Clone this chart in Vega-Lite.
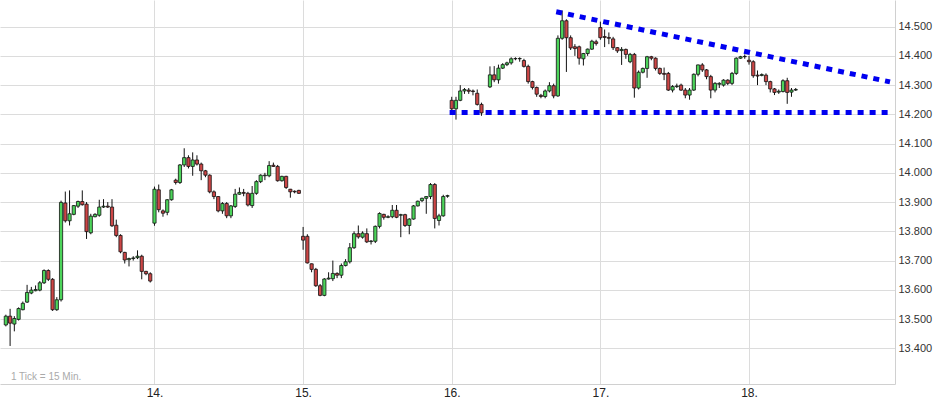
{
  "$schema": "https://vega.github.io/schema/vega-lite/v6.json",
  "width": 895,
  "height": 384,
  "padding": {"left": 0, "top": 0, "right": 45, "bottom": 18},
  "autosize": {"type": "none"},
  "background": "white",
  "config": {
    "view": {"stroke": null},
    "axisY": {
      "orient": "right",
      "ticks": false,
      "grid": true,
      "gridColor": "#dcdcdc",
      "gridWidth": 1,
      "domainColor": "#d0d0d0",
      "labelFont": "Liberation Sans",
      "labelFontSize": 11,
      "labelColor": "#333333",
      "labelPadding": 3,
      "labelOverlap": false,
      "title": null
    },
    "axisX": {
      "ticks": false,
      "grid": true,
      "gridColor": "#dcdcdc",
      "gridWidth": 1,
      "domainColor": "#d0d0d0",
      "labelFont": "Liberation Sans",
      "labelFontSize": 12,
      "labelColor": "#222222",
      "labelPadding": 3,
      "labelFlush": false,
      "labelOverlap": false,
      "title": null
    }
  },
  "datasets": {
    "candles": [
      {"k":0,"o":13.48,"c":13.51,"h":13.515,"l":13.475},
      {"k":1,"o":13.51,"c":13.486,"h":13.535,"l":13.408},
      {"k":2,"o":13.483,"c":13.502,"h":13.51,"l":13.458},
      {"k":3,"o":13.499,"c":13.536,"h":13.54,"l":13.495},
      {"k":4,"o":13.532,"c":13.554,"h":13.56,"l":13.53},
      {"k":5,"o":13.558,"c":13.591,"h":13.617,"l":13.555},
      {"k":6,"o":13.589,"c":13.599,"h":13.61,"l":13.585},
      {"k":7,"o":13.597,"c":13.601,"h":13.615,"l":13.595},
      {"k":8,"o":13.599,"c":13.624,"h":13.63,"l":13.595},
      {"k":9,"o":13.624,"c":13.666,"h":13.67,"l":13.62},
      {"k":10,"o":13.666,"c":13.636,"h":13.67,"l":13.63},
      {"k":11,"o":13.636,"c":13.532,"h":13.64,"l":13.528},
      {"k":12,"o":13.532,"c":13.566,"h":13.575,"l":13.528},
      {"k":13,"o":13.566,"c":13.899,"h":13.905,"l":13.56},
      {"k":14,"o":13.897,"c":13.836,"h":13.936,"l":13.83},
      {"k":15,"o":13.836,"c":13.86,"h":13.94,"l":13.82},
      {"k":16,"o":13.858,"c":13.888,"h":13.89,"l":13.855},
      {"k":17,"o":13.886,"c":13.902,"h":13.905,"l":13.88},
      {"k":18,"o":13.902,"c":13.891,"h":13.94,"l":13.888},
      {"k":19,"o":13.893,"c":13.799,"h":13.9,"l":13.774},
      {"k":20,"o":13.795,"c":13.852,"h":13.86,"l":13.79},
      {"k":21,"o":13.85,"c":13.858,"h":13.862,"l":13.848},
      {"k":22,"o":13.855,"c":13.883,"h":13.908,"l":13.85},
      {"k":23,"o":13.883,"c":13.886,"h":13.91,"l":13.88},
      {"k":24,"o":13.886,"c":13.883,"h":13.9,"l":13.88},
      {"k":25,"o":13.883,"c":13.819,"h":13.91,"l":13.815},
      {"k":26,"o":13.821,"c":13.786,"h":13.84,"l":13.78},
      {"k":27,"o":13.786,"c":13.73,"h":13.79,"l":13.725},
      {"k":28,"o":13.728,"c":13.702,"h":13.73,"l":13.69},
      {"k":29,"o":13.703,"c":13.707,"h":13.71,"l":13.68},
      {"k":30,"o":13.707,"c":13.709,"h":13.715,"l":13.7},
      {"k":31,"o":13.71,"c":13.715,"h":13.735,"l":13.705},
      {"k":32,"o":13.715,"c":13.663,"h":13.72,"l":13.636},
      {"k":33,"o":13.663,"c":13.655,"h":13.665,"l":13.65},
      {"k":34,"o":13.655,"c":13.63,"h":13.66,"l":13.625},
      {"k":35,"o":13.828,"c":13.944,"h":13.953,"l":13.819},
      {"k":36,"o":13.942,"c":13.874,"h":13.96,"l":13.865},
      {"k":37,"o":13.87,"c":13.862,"h":13.875,"l":13.85},
      {"k":38,"o":13.865,"c":13.908,"h":13.91,"l":13.855},
      {"k":39,"o":13.908,"c":13.942,"h":13.945,"l":13.905},
      {"k":40,"o":13.975,"c":13.967,"h":13.98,"l":13.96},
      {"k":41,"o":13.967,"c":14.027,"h":14.03,"l":13.962},
      {"k":42,"o":14.027,"c":14.052,"h":14.084,"l":14.02},
      {"k":43,"o":14.052,"c":14.022,"h":14.06,"l":14.015},
      {"k":44,"o":14.022,"c":14.044,"h":14.07,"l":13.99},
      {"k":45,"o":14.044,"c":14.03,"h":14.06,"l":14.025},
      {"k":46,"o":14.03,"c":14.007,"h":14.035,"l":13.975},
      {"k":47,"o":14.007,"c":13.992,"h":14.01,"l":13.985},
      {"k":48,"o":13.992,"c":13.935,"h":13.995,"l":13.93},
      {"k":49,"o":13.935,"c":13.919,"h":13.94,"l":13.91},
      {"k":50,"o":13.919,"c":13.87,"h":13.92,"l":13.865},
      {"k":51,"o":13.87,"c":13.895,"h":13.9,"l":13.86},
      {"k":52,"o":13.895,"c":13.853,"h":13.9,"l":13.845},
      {"k":53,"o":13.853,"c":13.887,"h":13.89,"l":13.845},
      {"k":54,"o":13.885,"c":13.927,"h":13.945,"l":13.88},
      {"k":55,"o":13.927,"c":13.933,"h":13.95,"l":13.925},
      {"k":56,"o":13.933,"c":13.93,"h":13.945,"l":13.92},
      {"k":57,"o":13.93,"c":13.89,"h":13.935,"l":13.885},
      {"k":58,"o":13.888,"c":13.93,"h":13.955,"l":13.88},
      {"k":59,"o":13.93,"c":13.97,"h":13.975,"l":13.925},
      {"k":60,"o":13.97,"c":13.992,"h":13.995,"l":13.965},
      {"k":61,"o":13.99,"c":13.992,"h":14.0,"l":13.975},
      {"k":62,"o":13.99,"c":14.025,"h":14.04,"l":13.985},
      {"k":63,"o":14.026,"c":14.022,"h":14.035,"l":14.02},
      {"k":64,"o":14.022,"c":13.973,"h":14.027,"l":13.97},
      {"k":65,"o":13.973,"c":13.988,"h":13.99,"l":13.97},
      {"k":66,"o":13.988,"c":13.95,"h":13.99,"l":13.945},
      {"k":67,"o":13.944,"c":13.935,"h":13.945,"l":13.915},
      {"k":68,"o":13.937,"c":13.935,"h":13.94,"l":13.93},
      {"k":69,"o":13.94,"c":13.93,"h":13.942,"l":13.928},
      {"k":70,"o":13.783,"c":13.77,"h":13.815,"l":13.737},
      {"k":71,"o":13.783,"c":13.692,"h":13.79,"l":13.69},
      {"k":72,"o":13.689,"c":13.67,"h":13.69,"l":13.66},
      {"k":73,"o":13.67,"c":13.614,"h":13.675,"l":13.61},
      {"k":74,"o":13.614,"c":13.581,"h":13.62,"l":13.578},
      {"k":75,"o":13.581,"c":13.637,"h":13.64,"l":13.578},
      {"k":76,"o":13.637,"c":13.64,"h":13.66,"l":13.635},
      {"k":77,"o":13.638,"c":13.656,"h":13.7,"l":13.63},
      {"k":78,"o":13.656,"c":13.65,"h":13.66,"l":13.64},
      {"k":79,"o":13.65,"c":13.683,"h":13.69,"l":13.64},
      {"k":80,"o":13.683,"c":13.696,"h":13.705,"l":13.68},
      {"k":81,"o":13.696,"c":13.744,"h":13.76,"l":13.69},
      {"k":82,"o":13.744,"c":13.792,"h":13.8,"l":13.74},
      {"k":83,"o":13.792,"c":13.781,"h":13.82,"l":13.775},
      {"k":84,"o":13.78,"c":13.794,"h":13.8,"l":13.775},
      {"k":85,"o":13.792,"c":13.764,"h":13.81,"l":13.76},
      {"k":86,"o":13.765,"c":13.767,"h":13.77,"l":13.755},
      {"k":87,"o":13.766,"c":13.817,"h":13.82,"l":13.76},
      {"k":88,"o":13.817,"c":13.861,"h":13.865,"l":13.81},
      {"k":89,"o":13.858,"c":13.848,"h":13.86,"l":13.84},
      {"k":90,"o":13.848,"c":13.85,"h":13.855,"l":13.845},
      {"k":91,"o":13.85,"c":13.872,"h":13.89,"l":13.845},
      {"k":92,"o":13.872,"c":13.848,"h":13.89,"l":13.845},
      {"k":93,"o":13.855,"c":13.857,"h":13.86,"l":13.78},
      {"k":94,"o":13.857,"c":13.82,"h":13.86,"l":13.815},
      {"k":95,"o":13.82,"c":13.842,"h":13.845,"l":13.79},
      {"k":96,"o":13.842,"c":13.887,"h":13.89,"l":13.84},
      {"k":97,"o":13.887,"c":13.903,"h":13.905,"l":13.885},
      {"k":98,"o":13.905,"c":13.913,"h":13.915,"l":13.9},
      {"k":99,"o":13.913,"c":13.919,"h":13.92,"l":13.86},
      {"k":100,"o":13.919,"c":13.96,"h":13.965,"l":13.91},
      {"k":101,"o":13.96,"c":13.844,"h":13.965,"l":13.81},
      {"k":102,"o":13.837,"c":13.853,"h":13.86,"l":13.82},
      {"k":103,"o":13.853,"c":13.919,"h":13.925,"l":13.85},
      {"k":104,"o":13.92,"c":13.922,"h":13.925,"l":13.915},
      {"k":105,"o":14.248,"c":14.219,"h":14.26,"l":14.21},
      {"k":106,"o":14.219,"c":14.248,"h":14.26,"l":14.182},
      {"k":107,"o":14.248,"c":14.28,"h":14.3,"l":14.245},
      {"k":108,"o":14.28,"c":14.285,"h":14.29,"l":14.27},
      {"k":109,"o":14.283,"c":14.279,"h":14.29,"l":14.27},
      {"k":110,"o":14.28,"c":14.278,"h":14.285,"l":14.265},
      {"k":111,"o":14.272,"c":14.234,"h":14.285,"l":14.23},
      {"k":112,"o":14.234,"c":14.205,"h":14.24,"l":14.195},
      {"k":114,"o":14.294,"c":14.335,"h":14.364,"l":14.29},
      {"k":115,"o":14.335,"c":14.318,"h":14.365,"l":14.31},
      {"k":116,"o":14.318,"c":14.358,"h":14.37,"l":14.305},
      {"k":117,"o":14.358,"c":14.37,"h":14.375,"l":14.355},
      {"k":118,"o":14.37,"c":14.376,"h":14.38,"l":14.365},
      {"k":119,"o":14.376,"c":14.39,"h":14.395,"l":14.37},
      {"k":120,"o":14.39,"c":14.391,"h":14.395,"l":14.385},
      {"k":121,"o":14.39,"c":14.391,"h":14.395,"l":14.38},
      {"k":122,"o":14.384,"c":14.364,"h":14.39,"l":14.36},
      {"k":123,"o":14.364,"c":14.312,"h":14.37,"l":14.305},
      {"k":124,"o":14.312,"c":14.292,"h":14.315,"l":14.285},
      {"k":125,"o":14.292,"c":14.269,"h":14.295,"l":14.26},
      {"k":126,"o":14.265,"c":14.261,"h":14.27,"l":14.255},
      {"k":127,"o":14.261,"c":14.28,"h":14.285,"l":14.255},
      {"k":128,"o":14.28,"c":14.298,"h":14.31,"l":14.275},
      {"k":129,"o":14.298,"c":14.263,"h":14.305,"l":14.255},
      {"k":130,"o":14.263,"c":14.46,"h":14.47,"l":14.26},
      {"k":131,"o":14.46,"c":14.52,"h":14.555,"l":14.455},
      {"k":132,"o":14.52,"c":14.462,"h":14.525,"l":14.345},
      {"k":133,"o":14.462,"c":14.427,"h":14.47,"l":14.42},
      {"k":134,"o":14.431,"c":14.425,"h":14.44,"l":14.4},
      {"k":135,"o":14.431,"c":14.392,"h":14.435,"l":14.37},
      {"k":136,"o":14.39,"c":14.408,"h":14.41,"l":14.367},
      {"k":137,"o":14.408,"c":14.423,"h":14.425,"l":14.4},
      {"k":138,"o":14.423,"c":14.45,"h":14.455,"l":14.42},
      {"k":139,"o":14.448,"c":14.442,"h":14.455,"l":14.435},
      {"k":140,"o":14.497,"c":14.462,"h":14.517,"l":14.455},
      {"k":141,"o":14.466,"c":14.463,"h":14.49,"l":14.43},
      {"k":142,"o":14.463,"c":14.46,"h":14.48,"l":14.44},
      {"k":143,"o":14.458,"c":14.428,"h":14.465,"l":14.42},
      {"k":144,"o":14.428,"c":14.417,"h":14.43,"l":14.41},
      {"k":145,"o":14.418,"c":14.422,"h":14.43,"l":14.369},
      {"k":146,"o":14.422,"c":14.405,"h":14.425,"l":14.39},
      {"k":147,"o":14.38,"c":14.405,"h":14.41,"l":14.375},
      {"k":148,"o":14.405,"c":14.29,"h":14.41,"l":14.257},
      {"k":149,"o":14.29,"c":14.344,"h":14.35,"l":14.285},
      {"k":150,"o":14.344,"c":14.357,"h":14.36,"l":14.34},
      {"k":151,"o":14.357,"c":14.397,"h":14.4,"l":14.325},
      {"k":152,"o":14.397,"c":14.392,"h":14.4,"l":14.385},
      {"k":153,"o":14.392,"c":14.357,"h":14.395,"l":14.35},
      {"k":154,"o":14.357,"c":14.34,"h":14.36,"l":14.335},
      {"k":155,"o":14.34,"c":14.337,"h":14.36,"l":14.317},
      {"k":156,"o":14.34,"c":14.283,"h":14.345,"l":14.28},
      {"k":157,"o":14.283,"c":14.295,"h":14.3,"l":14.275},
      {"k":158,"o":14.295,"c":14.297,"h":14.305,"l":14.29},
      {"k":159,"o":14.3,"c":14.283,"h":14.305,"l":14.28},
      {"k":160,"o":14.283,"c":14.266,"h":14.29,"l":14.255},
      {"k":161,"o":14.266,"c":14.283,"h":14.29,"l":14.25},
      {"k":162,"o":14.283,"c":14.337,"h":14.34,"l":14.28},
      {"k":163,"o":14.337,"c":14.369,"h":14.37,"l":14.33},
      {"k":164,"o":14.369,"c":14.352,"h":14.375,"l":14.345},
      {"k":165,"o":14.352,"c":14.329,"h":14.355,"l":14.32},
      {"k":166,"o":14.329,"c":14.283,"h":14.335,"l":14.255},
      {"k":167,"o":14.283,"c":14.306,"h":14.31,"l":14.275},
      {"k":168,"o":14.303,"c":14.306,"h":14.31,"l":14.29},
      {"k":169,"o":14.3,"c":14.317,"h":14.32,"l":14.295},
      {"k":170,"o":14.317,"c":14.306,"h":14.32,"l":14.3},
      {"k":171,"o":14.306,"c":14.34,"h":14.345,"l":14.3},
      {"k":172,"o":14.34,"c":14.392,"h":14.395,"l":14.335},
      {"k":173,"o":14.392,"c":14.397,"h":14.4,"l":14.39},
      {"k":174,"o":14.397,"c":14.398,"h":14.405,"l":14.39},
      {"k":175,"o":14.385,"c":14.38,"h":14.4,"l":14.37},
      {"k":176,"o":14.38,"c":14.332,"h":14.385,"l":14.325},
      {"k":177,"o":14.334,"c":14.331,"h":14.35,"l":14.3},
      {"k":178,"o":14.333,"c":14.336,"h":14.34,"l":14.33},
      {"k":179,"o":14.334,"c":14.312,"h":14.34,"l":14.3},
      {"k":180,"o":14.312,"c":14.287,"h":14.315,"l":14.275},
      {"k":181,"o":14.287,"c":14.275,"h":14.29,"l":14.266},
      {"k":182,"o":14.276,"c":14.279,"h":14.285,"l":14.27},
      {"k":183,"o":14.278,"c":14.315,"h":14.32,"l":14.275},
      {"k":184,"o":14.315,"c":14.275,"h":14.325,"l":14.236},
      {"k":185,"o":14.276,"c":14.283,"h":14.29,"l":14.26},
      {"k":186,"o":14.283,"c":14.285,"h":14.29,"l":14.28}
    ],
    "trend": [
      {"line":"upper","k":129.6,"p":14.551},
      {"line":"upper","k":208.2,"p":14.311},
      {"line":"lower","k":104.5,"p":14.206},
      {"line":"lower","k":208.2,"p":14.206}
    ],
    "note": [
      {"k":1.2,"p":13.302,"label":"1 Tick = 15 Min."}
    ]
  },
  "layer": [
    {
      "data": {"name": "candles"},
      "mark": {"type": "rule", "color": "#111111", "strokeWidth": 1},
      "encoding": {
        "x": {
          "field": "k", "type": "quantitative",
          "scale": {"domain": [-0.2, 208.2], "nice": false, "zero": false},
          "axis": {"values": [35, 70, 105, 140, 175], "labelExpr": "(datum.value / 35 + 13) + '.'"}
        },
        "y": {
          "field": "l", "type": "quantitative",
          "scale": {"domain": [13.278, 14.591], "nice": false, "zero": false},
          "axis": {"values": [13.4, 13.5, 13.6, 13.7, 13.8, 13.9, 14.0, 14.1, 14.2, 14.3, 14.4, 14.5], "format": ".3f"}
        },
        "y2": {"field": "h"}
      }
    },
    {
      "data": {"name": "candles"},
      "mark": {"type": "bar", "width": 3.2, "stroke": "#111111", "strokeWidth": 0.8},
      "encoding": {
        "x": {"field": "k", "type": "quantitative",
          "axis": {"values": [35, 70, 105, 140, 175], "labelExpr": "(datum.value / 35 + 13) + '.'"}},
        "y": {"field": "o", "type": "quantitative",
          "axis": {"values": [13.4, 13.5, 13.6, 13.7, 13.8, 13.9, 14.0, 14.1, 14.2, 14.3, 14.4, 14.5], "format": ".3f"}},
        "y2": {"field": "c"},
        "fill": {
          "condition": {"test": "datum.c >= datum.o", "value": "#4cd45a"},
          "value": "#cd4646"
        }
      }
    },
    {
      "data": {"name": "trend"},
      "mark": {"type": "line", "color": "#0000f0", "strokeWidth": 5, "strokeDash": [6, 6], "strokeCap": "butt", "clip": true},
      "encoding": {
        "x": {"field": "k", "type": "quantitative",
          "axis": {"values": [35, 70, 105, 140, 175], "labelExpr": "(datum.value / 35 + 13) + '.'"}},
        "y": {"field": "p", "type": "quantitative",
          "axis": {"values": [13.4, 13.5, 13.6, 13.7, 13.8, 13.9, 14.0, 14.1, 14.2, 14.3, 14.4, 14.5], "format": ".3f"}},
        "detail": {"field": "line"}
      }
    },
    {
      "data": {"name": "note"},
      "mark": {"type": "text", "align": "left", "baseline": "middle", "font": "Liberation Sans", "fontSize": 10, "color": "#aaaaaa"},
      "encoding": {
        "x": {"field": "k", "type": "quantitative",
          "axis": {"values": [35, 70, 105, 140, 175], "labelExpr": "(datum.value / 35 + 13) + '.'"}},
        "y": {"field": "p", "type": "quantitative",
          "axis": {"values": [13.4, 13.5, 13.6, 13.7, 13.8, 13.9, 14.0, 14.1, 14.2, 14.3, 14.4, 14.5], "format": ".3f"}},
        "text": {"field": "label"}
      }
    }
  ]
}
